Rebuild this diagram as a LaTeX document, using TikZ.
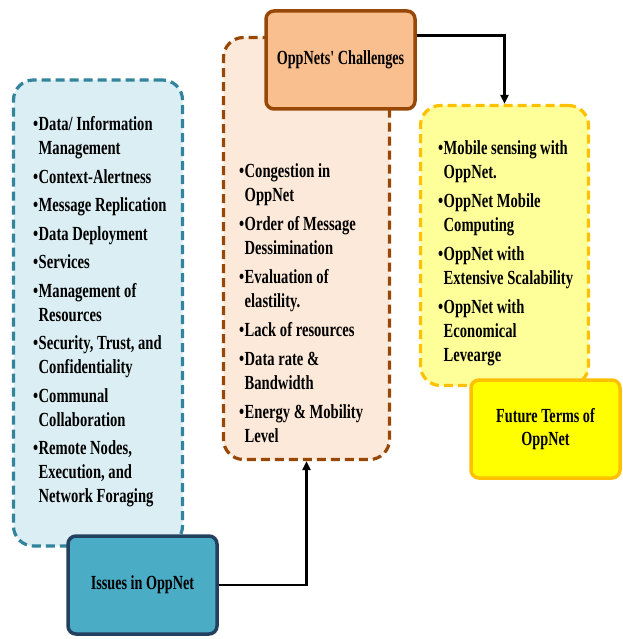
\documentclass[tikz,border=0pt]{standalone}
\usepackage{fontspec}
\setmainfont{Liberation Serif}
\newfontfamily\listfont{Liberation Serif}[FakeStretch=0.73]
\newfontfamily\headfont{Liberation Serif}[FakeStretch=0.71]
\usetikzlibrary{arrows.meta}

\definecolor{issuefill}{HTML}{DBEEF3}
\definecolor{issueline}{HTML}{31849B}
\definecolor{issuehead}{HTML}{4BACC6}
\definecolor{issuehline}{HTML}{24405F}
\definecolor{chalfill}{HTML}{FDE9D9}
\definecolor{challine}{HTML}{984806}
\definecolor{chalhead}{HTML}{F9BF8F}
\definecolor{futfill}{HTML}{FFFF99}
\definecolor{futline}{HTML}{FFC000}
\definecolor{futhead}{HTML}{FFFF00}

% bulleted first line and indented continuation line
\newcommand{\bl}[1]{\makebox[5.5pt][l]{\textbullet}#1}
\newcommand{\cl}{\hspace*{5.5pt}}
% fixed height for the first line of a list
\newcommand{\topline}{\rule{0pt}{15pt}}

\tikzset{
  dashbox/.style={draw, line width=3.2pt, dash pattern=on 9pt off 5pt,
    rounded corners=20pt, inner sep=0pt},
  headbox/.style={draw, line width=3.5pt, rounded corners=8pt, inner sep=0pt,
    minimum width=149pt, minimum height=98pt, align=center,
    font=\headfont\bfseries\fontsize{20}{23}\selectfont},
  itemlist/.style={anchor=north west, inner sep=0pt, align=left,
    font=\listfont\bfseries\fontsize{20}{24}\selectfont},
  link/.style={line width=2.6pt, -{Triangle[length=9pt,width=8pt]}},
}

\begin{document}
\begin{tikzpicture}[x=1pt, y=-1pt]
  \useasboundingbox (0,0) rectangle (622,639);
  \fill[white] (0,0) rectangle (622,639);

  % dashed list panels
  \node[dashbox, fill=issuefill, draw=issueline, minimum width=169pt, minimum height=466pt]
    (issuepanel) at (98,313) {};
  \node[dashbox, fill=chalfill, draw=challine, minimum width=166pt, minimum height=422pt]
    (chalpanel) at (306.5,248.5) {};
  \node[dashbox, fill=futfill, draw=futline, minimum width=168pt, minimum height=280pt]
    (futpanel) at (504.5,245.5) {};

  % list texts
  \node[itemlist] (issuelist) at (33,115.5) {%
    \topline\bl{Data/ Information}\\ \cl Management\\[4.5pt]
    \bl{Context-Alertness}\\[4.5pt]
    \bl{Message Replication}\\[4.5pt]
    \bl{Data Deployment}\\[4.5pt]
    \bl{Services}\\[4.5pt]
    \bl{Management of}\\ \cl Resources\\[4.5pt]
    \bl{Security, Trust, and}\\ \cl Confidentiality\\[4.5pt]
    \bl{Communal}\\ \cl Collaboration\\[4.5pt]
    \bl{Remote Nodes,}\\ \cl Execution, and\\ \cl Network Foraging};
  \node[itemlist] (challist) at (239,162) {%
    \topline\bl{Congestion in}\\ \cl OppNet\\[5pt]
    \bl{Order of Message}\\ \cl Dessimination\\[5pt]
    \bl{Evaluation of}\\ \cl elastility.\\[5pt]
    \bl{Lack of resources}\\[5pt]
    \bl{Data rate \&}\\ \cl Bandwidth\\[5pt]
    \bl{Energy \& Mobility}\\ \cl Level};
  \node[itemlist] (futlist) at (438,139) {%
    \topline\bl{Mobile sensing with}\\ \cl OppNet.\\[5pt]
    \bl{OppNet Mobile}\\ \cl Computing\\[5pt]
    \bl{OppNet with}\\ \cl Extensive Scalability\\[5pt]
    \bl{OppNet with}\\ \cl Economical\\ \cl Levearge};

  % heading boxes
  \node[headbox, fill=issuehead, draw=issuehline] (issues) at (142.5,585) {Issues in OppNet};
  \node[headbox, fill=chalhead, draw=challine] (challenges) at (340.5,60) {OppNets\symbol{39} Challenges};
  \node[headbox, fill=futhead, draw=futline] (future) at (545.5,429) {Future Terms of\\OppNet};

  % connectors
  \draw[link] (issues.east) -| (chalpanel.south);
  \draw[link] ([yshift=-26pt]challenges.north east) -| (futpanel.north);
\end{tikzpicture}
\end{document}
